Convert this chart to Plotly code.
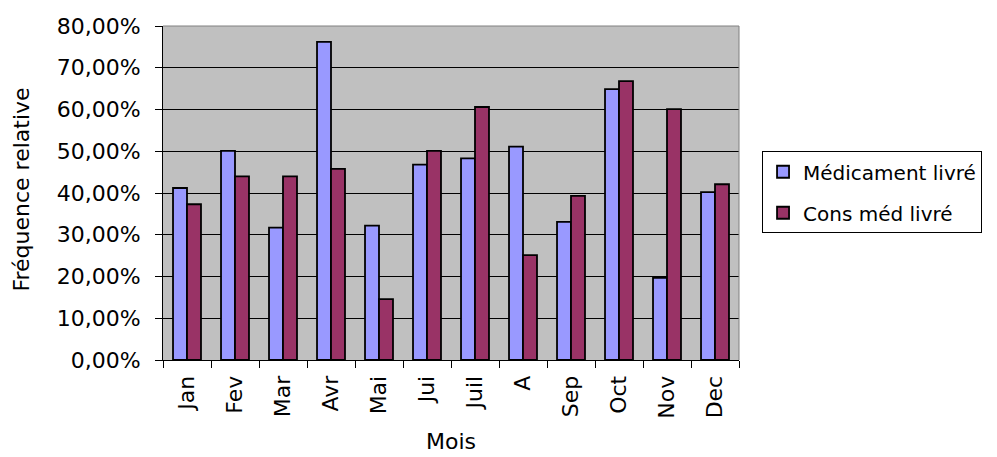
import plotly.graph_objects as go

months = ["Jan", "Fev", "Mar", "Avr", "Mai", "Jui", "Juil", "A", "Sep", "Oct", "Nov", "Dec"]
medicament = [0.412, 0.501, 0.317, 0.762, 0.322, 0.468, 0.483, 0.511, 0.331, 0.649, 0.197, 0.402]
cons_med = [0.373, 0.440, 0.440, 0.458, 0.146, 0.501, 0.606, 0.251, 0.393, 0.668, 0.601, 0.421]

font = "DejaVu Sans, Liberation Sans, Arial, sans-serif"

fig = go.Figure()
fig.add_trace(go.Bar(x=months, y=medicament, name="Médicament livré", legendgroup="a",
                     marker=dict(color="#9999FF", line=dict(color="black", width=1.8))))
fig.add_trace(go.Bar(x=months, y=cons_med, name="Cons méd livré", legendgroup="b",
                     marker=dict(color="#993366", line=dict(color="black", width=1.8))))

# page body has an 8px margin: size the figure so it fills the 997x457 window
fig.update_layout(
    width=989, height=449,
    margin=dict(l=155, r=258, t=18, b=97),
    paper_bgcolor="white", plot_bgcolor="#C0C0C0",
    barmode="group", bargap=0.417, bargroupgap=0,
    separators=", ",
    font=dict(family=font, size=22, color="black"),
    legend=dict(x=1.04, y=0.625, xanchor="left", yanchor="top",
                bordercolor="black", borderwidth=1, bgcolor="white",
                font=dict(size=20), tracegroupgap=12, itemwidth=30,
                traceorder="grouped"),
    showlegend=True,
    annotations=[
        dict(text="Mois", xref="paper", yref="paper", x=0.5, y=-0.245,
             xanchor="center", yanchor="middle", showarrow=False,
             font=dict(size=22)),
        dict(text="Fréquence relative", xref="paper", yref="paper", x=-0.245, y=0.51,
             xanchor="center", yanchor="middle", textangle=-90, showarrow=False,
             font=dict(size=22)),
    ],
)
fig.update_xaxes(tickangle=-90, automargin=False,
                 showline=True, linecolor="black", linewidth=1,
                 ticks="outside", tickson="boundaries", ticklen=7, tickcolor="black",
                 ticklabelstandoff=6,
                 showgrid=False)
fig.update_yaxes(range=[0, 0.8], dtick=0.1, tickformat=".2%", automargin=False,
                 showline=True, linecolor="black", linewidth=1,
                 ticks="outside", ticklen=7, tickcolor="black",
                 ticklabelstandoff=10,
                 showgrid=True, gridcolor="black", gridwidth=1, zeroline=False)
fig.add_shape(type="line", xref="paper", yref="paper", x0=0, x1=1, y0=1, y1=1,
              line=dict(color="#808080", width=1))
fig.add_shape(type="line", xref="paper", yref="paper", x0=1, x1=1, y0=0, y1=1,
              line=dict(color="#808080", width=1))

fig.write_html("out.html")
